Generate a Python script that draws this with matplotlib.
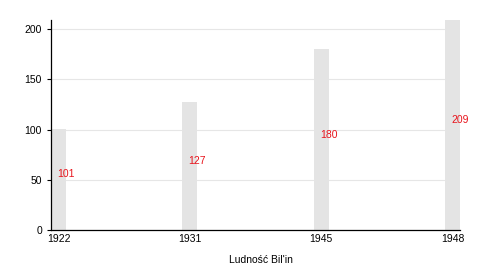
import matplotlib
matplotlib.use('Agg')
import matplotlib.pyplot as plt
plt.rcParams.update({'font.size': 7.5, 'font.family': ['Liberation Sans', 'DejaVu Sans']})

years = ['1922', '1931', '1945', '1948']
population = [101, 127, 180, 209]

fig = plt.figure(figsize=(5, 2.7), dpi=100)
ax = fig.add_axes([0.102, 0.148, 0.818, 0.778])

pos = range(len(years))
ax.bar(pos, population, width=0.114, color='#e4e4e4', zorder=2)
for i, v in zip(pos, population):
    ax.text(i - 0.01, v / 2, str(v), color='#e8141c', ha='left', va='bottom', zorder=3)

ax.set_xticks(list(pos))
ax.set_xticklabels(years)
ax.set_xlim(-0.057, 3.057)
ax.set_ylim(0, 209)
ax.set_yticks([0, 50, 100, 150, 200])
ax.yaxis.grid(True, color='#e6e6e6', linewidth=0.8, zorder=0)
ax.set_axisbelow(True)
ax.tick_params(axis='x', length=0, pad=3)
ax.tick_params(axis='y', length=3, width=0.8)
for s in ['top', 'right']:
    ax.spines[s].set_visible(False)
ax.spines['left'].set_linewidth(0.9)
ax.spines['bottom'].set_linewidth(0.9)
ax.set_xlabel("Ludność Bil'in", labelpad=6)
ax.xaxis.set_label_coords(0.513, -0.12)

fig.savefig('out.png', dpi=100)
